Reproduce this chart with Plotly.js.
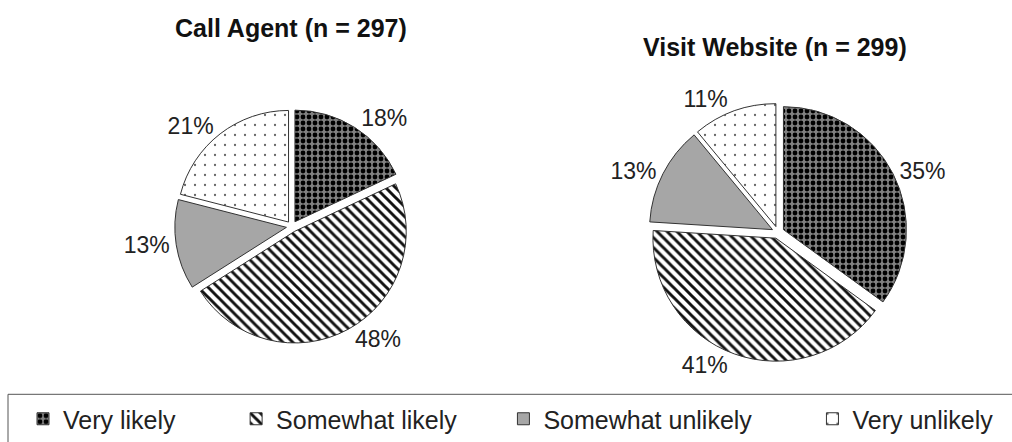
<!DOCTYPE html>
<html>
<head>
<meta charset="utf-8">
<script src="https://cdn.plot.ly/plotly-3.0.1.min.js"></script>
<style>
  html, body { margin: 0; padding: 0; background: #fff; }
  #chart { width: 1012px; height: 442px; }
</style>
</head>
<body>
<div id="chart"></div>
<script>
// ---- data ----
const categories = ['Very likely', 'Somewhat likely', 'Somewhat unlikely', 'Very unlikely'];
const callAgentValues = [18, 48, 13, 21];
const visitWebsiteValues = [35, 41, 13, 11];
const chartTitles = ['Call Agent (n = 297)', 'Visit Website (n = 299)'];

// ---- styles ----
const FONT = 'Liberation Sans, Arial, sans-serif';
// trailing non-breaking spaces widen the legend entries to match the spacing of the original
const legendPad = [8, 6, 8, 0];
const legendLabels = categories.map((c, i) => c + '\u00a0'.repeat(legendPad[i]));

const pattern = {
  shape: ['.', '\\', '', '.'],
  fgcolor: ['#000000', '#111111', '#a6a6a6', '#666666'],
  bgcolor: ['#808080', '#ffffff', '#a6a6a6', '#ffffff'],
  size: [6, 7, 8, 10],
  solidity: [0.5, 0.42, 0.3, 0.04],
  fillmode: 'replace'
};
const colors = ['#808080', '#ffffff', '#a6a6a6', '#ffffff'];

function pieTrace(values, domain) {
  return {
    type: 'pie',
    labels: legendLabels,
    values: values,
    sort: false,
    direction: 'clockwise',
    rotation: 0,
    pull: 0.05,
    domain: domain,
    textposition: 'outside',
    texttemplate: '%{value}%',
    textfont: { family: FONT, size: 23, color: '#222' },
    marker: {
      colors: colors,
      pattern: pattern,
      line: { color: '#333', width: 1 }
    },
    hoverinfo: 'label+percent'
  };
}

const data = [
  pieTrace(callAgentValues, { x: [0.1719, 0.4051], y: [0.2172, 0.7511] }),
  pieTrace(visitWebsiteValues, { x: [0.6403, 0.8972], y: [0.1765, 0.7647] })
];

const layout = {
  width: 1012,
  height: 442,
  margin: { l: 0, r: 0, t: 0, b: 0 },
  paper_bgcolor: '#fff',
  showlegend: true,
  legend: {
    orientation: 'h',
    x: 23 / 1012, xanchor: 'left',
    y: 43 / 442, yanchor: 'top',
    borderwidth: 0,
    bgcolor: 'rgba(0,0,0,0)',
    font: { family: FONT, size: 25, color: '#222' },
    traceorder: 'normal'
  },
  shapes: [
    { type: 'rect', xref: 'paper', yref: 'paper',
      x0: 8 / 1012, x1: 1.02, y0: -0.05, y1: 45 / 442,
      line: { color: '#555', width: 1 }, fillcolor: 'rgba(0,0,0,0)' }
  ],
  annotations: [
    { text: '<b>' + chartTitles[0] + '</b>', xref: 'paper', yref: 'paper', x: 0.2875, y: 0.937,
      xanchor: 'center', yanchor: 'middle', showarrow: false,
      font: { family: FONT, size: 25, color: '#111' } },
    { text: '<b>' + chartTitles[1] + '</b>', xref: 'paper', yref: 'paper', x: 0.766, y: 0.892,
      xanchor: 'center', yanchor: 'middle', showarrow: false,
      font: { family: FONT, size: 25, color: '#111' } }
  ]
};

Plotly.newPlot('chart', data, layout, { displayModeBar: false, staticPlot: true });
</script>
</body>
</html>
